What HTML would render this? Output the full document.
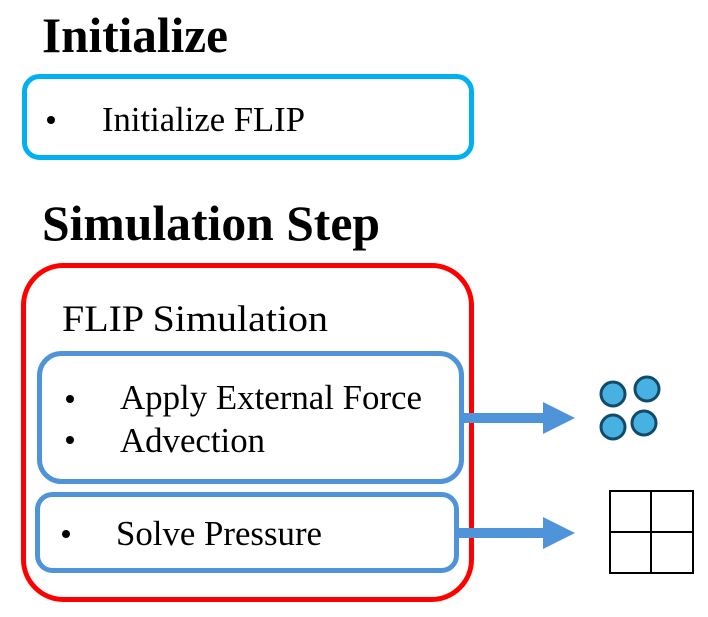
<!DOCTYPE html>
<html><head><style>body{margin:0;background:#fff}svg{display:block}</style></head>
<body>
<svg width="708" height="617" viewBox="0 0 708 617" xmlns="http://www.w3.org/2000/svg" font-family="'Liberation Serif', serif">
<rect width="708" height="617" fill="#fff"/>
<text x="42" y="52" font-size="50" font-weight="bold" textLength="186" lengthAdjust="spacingAndGlyphs">Initialize</text>
<rect x="24.5" y="76.5" width="447" height="81" rx="15" fill="none" stroke="#00B0F0" stroke-width="5"/>
<circle cx="51" cy="120" r="4" fill="#000"/>
<text x="102" y="131" font-size="35" textLength="203" lengthAdjust="spacingAndGlyphs">Initialize FLIP</text>
<text x="42" y="240" font-size="50" font-weight="bold" textLength="338" lengthAdjust="spacingAndGlyphs">Simulation Step</text>
<rect x="23.5" y="265.5" width="448" height="334" rx="40" fill="none" stroke="#FF0000" stroke-width="5"/>
<text x="62" y="331" font-size="37" textLength="266" lengthAdjust="spacingAndGlyphs">FLIP Simulation</text>
<rect x="39.5" y="353.5" width="422" height="128" rx="22" fill="none" stroke="#4F94D8" stroke-width="5"/>
<circle cx="70" cy="399" r="4" fill="#000"/>
<circle cx="70" cy="440" r="4" fill="#000"/>
<text x="120" y="409" font-size="35" textLength="302" lengthAdjust="spacingAndGlyphs">Apply External Force</text>
<text x="120" y="452" font-size="35" textLength="145" lengthAdjust="spacingAndGlyphs">Advection</text>
<rect x="37.5" y="494.5" width="419" height="76" rx="15" fill="none" stroke="#4F94D8" stroke-width="5"/>
<circle cx="66" cy="534" r="4" fill="#000"/>
<text x="116" y="545" font-size="35" textLength="206" lengthAdjust="spacingAndGlyphs">Solve Pressure</text>
<polygon points="462,413 543,413 543,402 575,418 543,434 543,423 462,423" fill="#4F94D8"/>
<polygon points="458,528 543,528 543,517 575,533 543,549 543,538 458,538" fill="#4F94D8"/>
<g fill="#47B2E2" stroke="#124A6A" stroke-width="3">
<circle cx="613" cy="394" r="12"/>
<circle cx="647" cy="389" r="12"/>
<circle cx="613" cy="427" r="12"/>
<circle cx="644" cy="423" r="12"/>
</g>
<g fill="none" stroke="#000" stroke-width="2">
<rect x="610" y="491" width="83" height="82"/>
<line x1="651" y1="491" x2="651" y2="573"/>
<line x1="610" y1="532" x2="693" y2="532"/>
</g>
</svg>
</body></html>
